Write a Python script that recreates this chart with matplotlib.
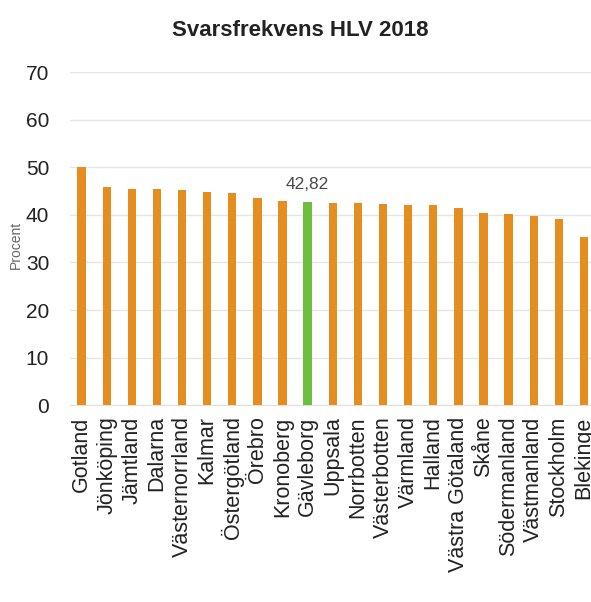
import matplotlib
matplotlib.use("Agg")
import matplotlib.pyplot as plt
import numpy as np

# --- Data ---
regions = ["Gotland", "Jönköping", "Jämtland", "Dalarna", "Västernorrland",
           "Kalmar", "Östergötland", "Örebro", "Kronoberg", "Gävleborg",
           "Uppsala", "Norrbotten", "Västerbotten", "Värmland", "Halland",
           "Västra Götaland", "Skåne", "Södermanland", "Västmanland",
           "Stockholm", "Blekinge"]
procent = [50.1, 45.9, 45.5, 45.4, 45.2, 44.8, 44.7, 43.6, 43.0, 42.82,
           42.6, 42.6, 42.2, 42.0, 42.0, 41.5, 40.5, 40.1, 39.7, 39.1, 35.4]
highlight = "Gävleborg"
y_ticks = [0, 10, 20, 30, 40, 50, 60, 70]

plt.rcParams['font.family'] = ['Liberation Sans Narrow', 'Liberation Sans', 'DejaVu Sans']

fig = plt.figure(figsize=(5.91, 6.02), dpi=100)
ax = fig.add_axes([0.1184, 0.327, 0.8816, 0.553])

x = np.arange(len(regions))
colors = ['#6CBF3F' if r == highlight else '#E58D1E' for r in regions]
ax.bar(x, procent, width=0.33, color=colors, zorder=3)

# value label for the highlighted county
hi = regions.index(highlight)
ax.text(hi, procent[hi] + 2.0, f"{procent[hi]:.2f}".replace('.', ','),
        ha='center', va='bottom', fontsize=12.5, color='#4a4a4a')

ax.set_ylim(0, 70)
ax.set_xlim(-0.46, 20.28)
ax.set_yticks(y_ticks)
ax.tick_params(axis='y', labelsize=15, length=0, pad=15, colors='#222222')
ax.set_xticks(x)
ax.set_xticklabels(regions, rotation=90, fontsize=15.5, color='#222222')
ax.tick_params(axis='x', length=0, pad=8)
ax.yaxis.grid(True, color='#E6E6E6', linewidth=1, zorder=0)
for s in ['top', 'right', 'left']:
    ax.spines[s].set_visible(False)
ax.spines['bottom'].set_color('#E0E0E0')

ax.set_ylabel("Procent", fontsize=10, color='#666666')
ax.yaxis.set_label_coords(-0.09, 0.48)

fig.text(0.508, 0.95, "Svarsfrekvens HLV 2018", ha='center', va='center',
         fontsize=16, fontweight='bold', color='#222222')

fig.savefig("out.png", dpi=100, facecolor='white')
